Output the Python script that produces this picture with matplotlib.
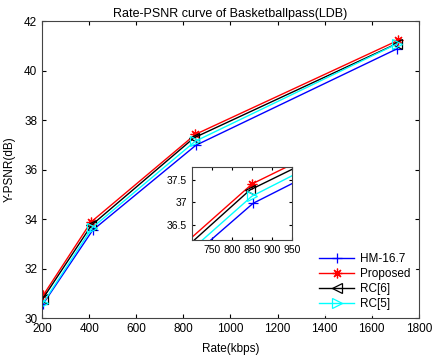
import numpy as np
import matplotlib.pyplot as plt

plt.rcParams['font.family'] = ['Liberation Sans', 'DejaVu Sans']

# rate (kbps) and Y-PSNR (dB) per method
rate_hm = [203, 415, 853, 1708]
psnr_hm = [30.55, 33.55, 36.98, 40.88]
rate_prop = [205, 408, 851, 1712]
psnr_prop = [30.92, 33.88, 37.42, 41.22]
rate_rc6 = [203, 410, 845, 1705]
psnr_rc6 = [30.78, 33.75, 37.28, 41.08]
rate_rc5 = [205, 413, 850, 1708]
psnr_rc5 = [30.62, 33.65, 37.14, 41.08]

star = (8, 2, 0)  # matlab-like asterisk
series = [
    (rate_hm, psnr_hm, '#0000ff', '+', 'HM-16.7'),
    (rate_prop, psnr_prop, '#ff0000', star, 'Proposed'),
    (rate_rc6, psnr_rc6, '#000000', '<', 'RC[6]'),
    (rate_rc5, psnr_rc5, '#00ffff', '>', 'RC[5]'),
]

def draw(a, with_labels):
    for r, p, c, m, lab in series:
        a.plot(r, p, color=c, marker=m, markersize=7, linewidth=1,
               markeredgewidth=0.9,
               markerfacecolor='none' if m in ('<', '>') else c,
               label=lab if with_labels else None)

fig = plt.figure(figsize=(4.35, 3.59), dpi=100)
ax = fig.add_axes([0.0966, 0.114, 0.8664, 0.8275])
draw(ax, True)

ax.set_xlim(200, 1800)
ax.set_ylim(30, 42)
ax.set_xticks(np.arange(200, 1801, 200))
ax.set_yticks(np.arange(30, 43, 2))
ax.tick_params(direction='in', top=True, right=True, labelsize=8.5, length=3)
ax.set_xlabel('Rate(kbps)', fontsize=8.5, labelpad=6)
ax.set_ylabel('Y-PSNR(dB)', fontsize=8.5, labelpad=6)
ax.set_title('Rate-PSNR curve of Basketballpass(LDB)', fontsize=9, pad=3)
for s in ax.spines.values():
    s.set_color('#444444')

leg = ax.legend(loc='lower right', fontsize=8.5, frameon=True, handlelength=3,
                labelspacing=0.25, borderaxespad=0.3, handletextpad=0.5)
leg.get_frame().set_edgecolor('white')
leg.get_frame().set_boxstyle('square', pad=0)

# zoomed inset around 850 kbps
ins = fig.add_axes([0.441, 0.331, 0.230, 0.204])
draw(ins, False)
ins.set_xlim(700, 950)
ins.set_ylim(36.15, 37.8)
ins.set_xticks([750, 800, 850, 900, 950])
ins.set_yticks([36.5, 37, 37.5])
ins.set_yticklabels(['36.5', '37', '37.5'])
ins.tick_params(direction='in', top=True, right=True, labelsize=7.5, length=2)
for s in ins.spines.values():
    s.set_color('#444444')

fig.savefig('out.png', dpi=100)
